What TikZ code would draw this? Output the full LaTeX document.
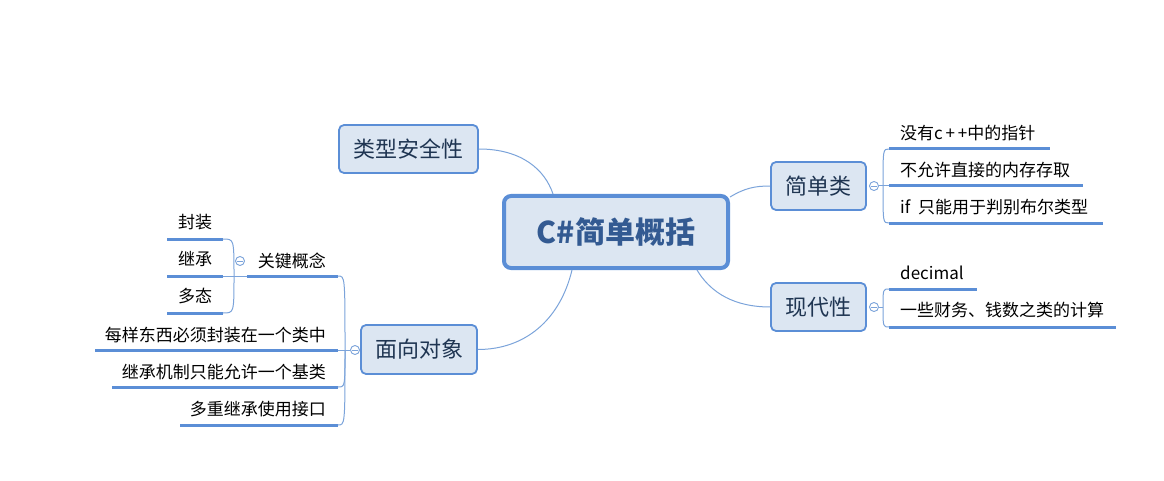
\documentclass[tikz,border=0pt]{standalone}
\usepackage{fontspec}
\setmainfont{Noto Sans CJK SC}
\definecolor{boxfill}{HTML}{DCE6F2}
\definecolor{boxline}{HTML}{5B8ED6}
\definecolor{linkc}{HTML}{7BA3DA}
\definecolor{ulinec}{HTML}{5B8ED6}
\definecolor{ctext}{HTML}{335A92}
\definecolor{stext}{HTML}{1F3552}
\begin{document}
\begin{tikzpicture}[x=1pt,y=-1pt,
  mainbox/.style={draw=boxline, line width=4pt, fill=boxfill, rounded corners=7pt,
    minimum width=224pt, minimum height=72pt, inner sep=0pt, text=ctext,
    font=\fontsize{30}{34}\selectfont\bfseries},
  subbox/.style={draw=boxline, line width=1.8pt, fill=boxfill, rounded corners=5pt,
    inner sep=0pt, text=stext, font=\fontsize{22}{26}\selectfont},
  leafr/.style={anchor=base west, inner sep=0pt, font=\fontsize{17}{20}\selectfont},
  leafl/.style={anchor=base east, inner sep=0pt, font=\fontsize{17}{20}\selectfont},
  leafc/.style={anchor=base, inner sep=0pt, font=\fontsize{17}{20}\selectfont},
  linkline/.style={draw=linkc, line width=1pt},
  uline/.style={draw=ulinec, line width=3pt},
  collapse/.style={circle, draw=linkc, line width=0.9pt, fill=white, minimum size=9pt, inner sep=0pt,
    path picture={\draw[linkc, line width=0.9pt] ([xshift=-2.6pt]path picture bounding box.center) -- ([xshift=2.6pt]path picture bounding box.center);}}
]
\useasboundingbox (0,0) rectangle (1164,481);

% main and sub topics
\node[mainbox] (c) at (616,232) {C\#简单概括};
\node[subbox, minimum width=139pt, minimum height=48pt] (ts) at (408.5,149) {类型安全性};
\node[subbox, minimum width=95pt, minimum height=48pt] (js) at (818.5,186) {简单类};
\node[subbox, minimum width=95pt, minimum height=48pt] (xd) at (818.5,307) {现代性};
\node[subbox, minimum width=116pt, minimum height=49pt] (mx) at (419,349.5) {面向对象};

% central connectors
\draw[linkline] (ts.east) .. controls (522,149) and (545,170) .. ([xshift=-63pt]c.north);
\draw[linkline] ([yshift=-3pt]c.north east) .. controls (745,188) and (755,186) .. (js.west);
\draw[linkline] ([xshift=81pt]c.south) .. controls (715,300) and (745,307) .. (xd.west);
\draw[linkline] ([xshift=-44pt]c.south) .. controls (560,320) and (525,349.5) .. (mx.east);

% ---- 简单类 ----
\node[collapse] (k1) at (874,186) {};
\coordinate (j1) at (883,186);
\coordinate (a1) at (889,149); \coordinate (b1) at (1050,149);
\coordinate (a2) at (889,186); \coordinate (b2) at (1083,186);
\coordinate (a3) at (889,223); \coordinate (b3) at (1103,223);
\draw[uline] (a1) -- (b1);
\draw[uline] (a2) -- (b2);
\draw[uline] (a3) -- (b3);
\draw[linkline] (k1.east) -- (a2);
\draw[linkline] (j1) .. controls (883,149) .. (a1);
\draw[linkline] (j1) .. controls (883,223) .. (a3);
\node[leafr] (t1) at (900,139.5) {没有c\,+\,+中的指针};
\node[leafr] (t2) at (900,177) {不允许直接的内存存取};
\node[leafr] (t3) at (900,214) {if\ \ 只能用于判别布尔类型};

% ---- 现代性 ----
\node[collapse] (k2) at (874,307) {};
\coordinate (j2) at (883,307);
\coordinate (a4) at (889,289); \coordinate (b4) at (977,289);
\coordinate (a5) at (889,327); \coordinate (b5) at (1116,327);
\draw[uline] (a4) -- (b4);
\draw[uline] (a5) -- (b5);
\draw[linkline] (k2.east) -- (j2);
\draw[linkline] (j2) .. controls (883,289) .. (a4);
\draw[linkline] (j2) .. controls (883,327) .. (a5);
\node[leafr] (t4) at (900,279) {decimal};
\node[leafr] (t5) at (900,316.5) {一些财务、钱数之类的计算};

% ---- 面向对象 ----
\node[collapse] (k3) at (355,350) {};
\coordinate (j3) at (345,350);
\coordinate (a6) at (338,276); \coordinate (b6) at (247,276);
\coordinate (a7) at (338,350); \coordinate (b7) at (95,350);
\coordinate (a8) at (338,387); \coordinate (b8) at (112,387);
\coordinate (a9) at (338,425); \coordinate (b9) at (180,425);
\draw[uline] (a6) -- (b6);
\draw[uline] (a7) -- (b7);
\draw[uline] (a8) -- (b8);
\draw[uline] (a9) -- (b9);
\draw[linkline] (k3.west) -- (a7);
\draw[linkline] (j3) .. controls (345,276) .. (a6);
\draw[linkline] (j3) .. controls (345,387) .. (a8);
\draw[linkline] (j3) .. controls (345,425) .. (a9);
\node[leafl] (t6) at (326,267) {关键概念};
\node[leafl] (t7) at (326,341.5) {每样东西必须封装在一个类中};
\node[leafl] (t8) at (326,378) {继承机制只能允许一个基类};
\node[leafl] (t9) at (326,415) {多重继承使用接口};

% ---- 关键概念 ----
\node[collapse] (k4) at (240,261) {};
\coordinate (j4) at (234,276);
\coordinate (a10) at (223,239); \coordinate (b10) at (167,239);
\coordinate (a11) at (223,276); \coordinate (b11) at (167,276);
\coordinate (a12) at (223,313); \coordinate (b12) at (167,313);
\draw[uline] (a10) -- (b10);
\draw[uline] (a11) -- (b11);
\draw[uline] (a12) -- (b12);
\draw[linkline] (b6) -- (a11);
\draw[linkline] (j4) .. controls (234,239) .. (a10);
\draw[linkline] (j4) .. controls (234,313) .. (a12);
\node[leafc] (t10) at (195,228.5) {封装};
\node[leafc] (t11) at (195,265.5) {继承};
\node[leafc] (t12) at (195,302.5) {多态};
\end{tikzpicture}
\end{document}
